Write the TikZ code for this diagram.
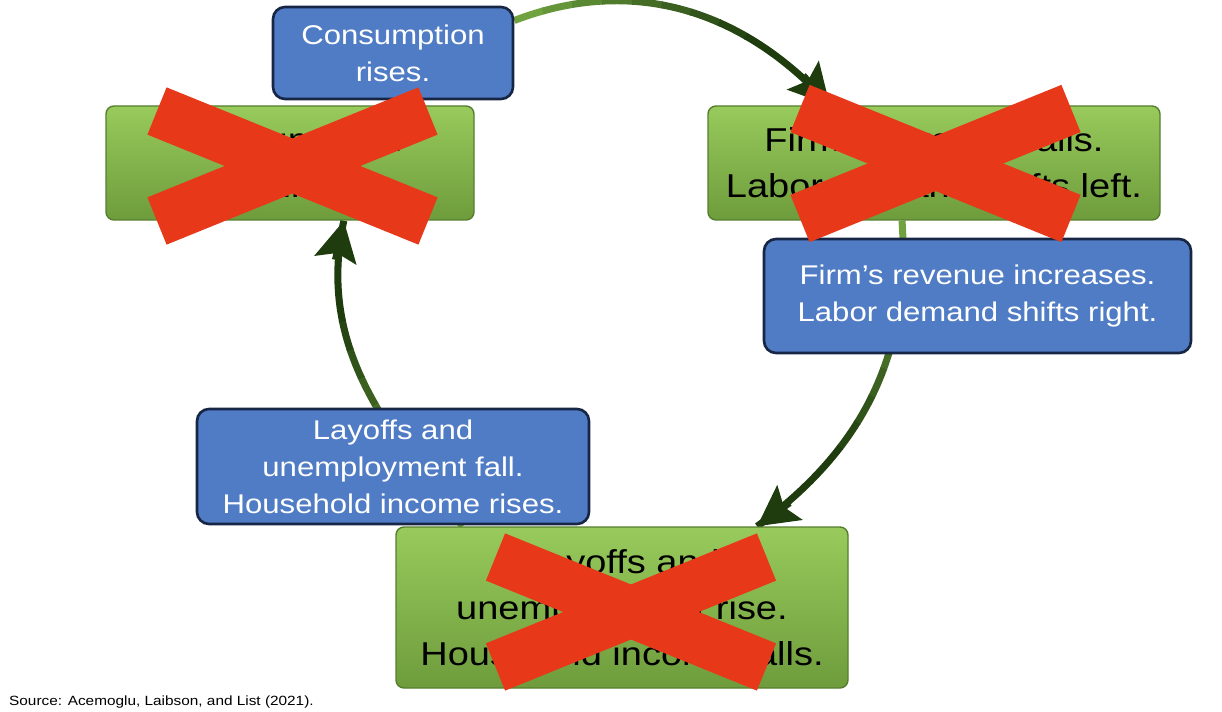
\documentclass[tikz,border=0pt]{standalone}
\usepackage{fontspec}
\setmainfont{Liberation Sans}[FakeStretch=1.15]
\usetikzlibrary{arrows.meta}

\definecolor{sky}{RGB}{79,124,196}
\definecolor{navy}{RGB}{24,38,70}
\definecolor{grasstop}{RGB}{152,202,92}
\definecolor{grassbot}{RGB}{110,156,60}
\definecolor{moss}{RGB}{86,126,46}
\definecolor{leaf}{RGB}{112,163,64}
\definecolor{bark}{RGB}{30,60,14}
\definecolor{redx}{RGB}{232,56,26}

\pgfdeclarelayer{back}
\pgfsetlayers{back,main}

\tikzset{
  note/.style={draw=navy, line width=1.5pt, fill=sky, rounded corners=0.24cm,
    text=white, align=center, inner sep=0pt,
    font=\fontsize{15.4}{21}\selectfont},
  stage/.style={draw=moss, line width=0.8pt, top color=grasstop, bottom color=grassbot,
    rounded corners=0.16cm, align=center, inner sep=0pt,
    font=\fontsize{18.8}{26.2}\selectfont},
  cyc/.style={line width=4pt},
  cychead/.style={-{Stealth[length=0.8cm,width=0.84cm,inset=0.14cm]}},
  xbar/.style={draw=redx, line width=1.02cm}
}

\begin{document}
\begin{tikzpicture}
\useasboundingbox (0,0) rectangle (24.44,14.22);

\node[stage, minimum width=7.36cm, minimum height=2.28cm] (lgreen) at (5.80,10.96) {Consumption\\falls.};
\node[stage, minimum width=9.04cm, minimum height=2.28cm] (rgreen) at (18.68,10.96) {Firm’s revenue falls.\\Labor demand shifts left.};
\node[stage, minimum width=9.04cm, minimum height=3.22cm] (bgreen) at (12.44,2.07) {Layoffs and\\unemployment rise.\\Household income falls.};

\node[note, minimum width=4.8cm, minimum height=1.84cm] (cons) at (7.86,13.16) {Consumption\\rises.};
\node[note, minimum width=8.54cm, minimum height=2.28cm] (firm) at (19.55,8.30) {Firm’s revenue increases.\\Labor demand shifts right.};
\node[note, minimum width=7.84cm, minimum height=2.30cm] (jobs) at (7.86,4.89) {Layoffs and\\unemployment fall.\\Household income rises.};

\node[anchor=base west, font=\fontsize{7.6}{9}\selectfont] (src) at (0.06,0.12) {Source: Acemoglu, Laibson, and List (2021).};

\begin{pgfonlayer}{back}
\foreach \beg/\fin/\p/\q in {cons.15/rgreen.151/21/132, rgreen.241/bgreen.31/-86/36, bgreen.153/lgreen.-47/128/258}{
  \foreach \k in {0,...,7}{
    \pgfmathtruncatemacro{\mix}{100-\k*13}
    \pgfmathsetmacro{\gap}{\k*0.6}
    \draw[cyc, leaf!\mix!bark, dash pattern=on 0pt off \gap cm on 0.62cm off 40cm] (\beg) to[out=\p,in=\q] (\fin);
  }
  \draw[cyc, bark, dash pattern=on 0pt off 4.8cm on 40cm] (\beg) to[out=\p,in=\q] (\fin);
  \draw[cyc, bark, cychead] ([shift={(\q:0.8cm)}]\fin) -- (\fin);
}
\end{pgfonlayer}

\foreach \n/\dx/\dy in {lgreen/0.05/-0.06, rgreen/0.03/-0.01, bgreen/0.18/-0.09}{
  \draw[xbar] ([shift={(\dx-2.71,\dy+1.1)}]\n.center) -- ([shift={(\dx+2.71,\dy-1.1)}]\n.center);
  \draw[xbar] ([shift={(\dx-2.71,\dy-1.1)}]\n.center) -- ([shift={(\dx+2.71,\dy+1.1)}]\n.center);
}
\end{tikzpicture}
\end{document}
